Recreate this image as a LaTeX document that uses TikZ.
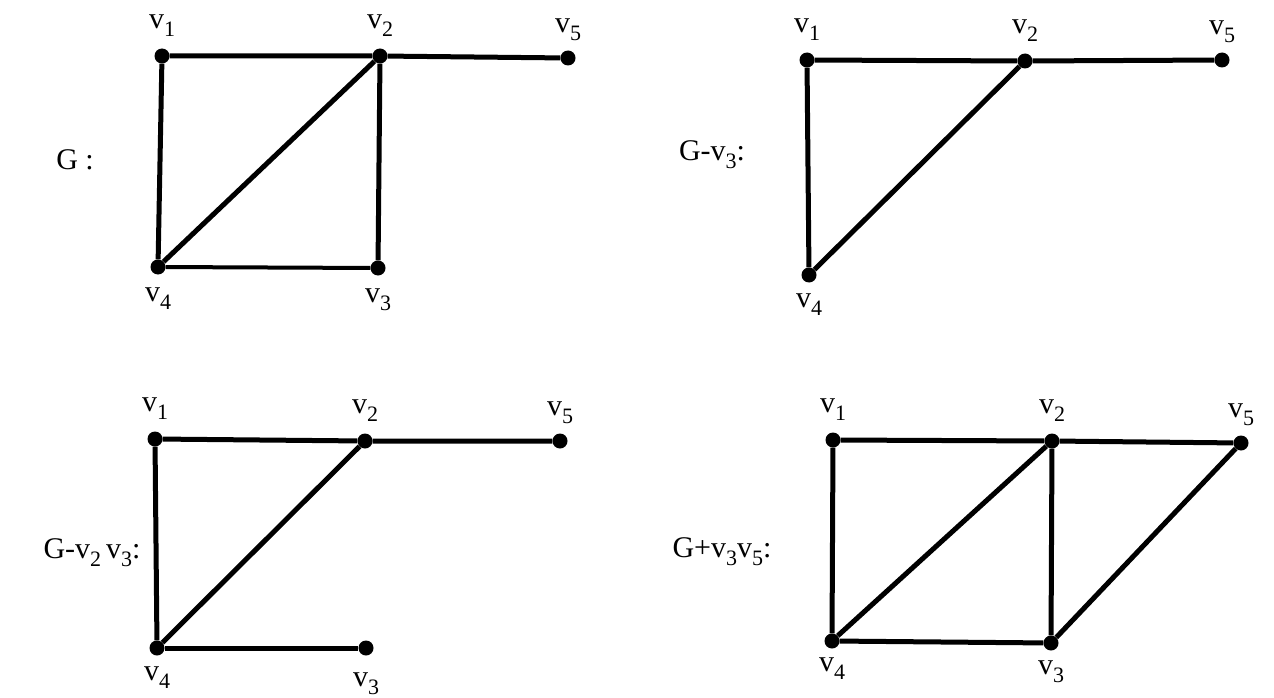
\documentclass[tikz,border=0pt]{standalone}
\usepackage{fontspec}
\setmainfont{Liberation Serif}
\usetikzlibrary{positioning}
\newcommand{\vs}[1]{v\raisebox{-8pt}{\fontsize{22pt}{22pt}\selectfont #1}}

\begin{document}
\begin{tikzpicture}[x=1pt, y=-1pt,
    every node/.style={inner sep=0pt},
    vtx/.style={circle, fill=black, minimum size=15pt},
    edge/.style={line width=5pt},
    thinedge/.style={line width=4pt},
    lbl/.style={font=\fontsize{30pt}{34pt}\selectfont}]
    \useasboundingbox (0,0) rectangle (1274,698);

    % Graph G (top left)
    \node[vtx] (a1) at (162,56) {};
    \node[vtx] (a2) at (380,56) {};
    \node[vtx] (a5) at (568,58) {};
    \node[vtx] (a4) at (158,267) {};
    \node[vtx] (a3) at (378,268) {};
    \node[lbl, above=12pt of a1] {\vs{1}};
    \node[lbl, above=12pt of a2] {\vs{2}};
    \node[lbl, above=9pt of a5] {\vs{5}};
    \node[lbl, below=13pt of a4] {\vs{4}};
    \node[lbl, below=13pt of a3] {\vs{3}};
    \node[lbl] (gA) at (75,160) {G :};
    \draw[edge] (a1) -- (a2) -- (a5);
    \draw[edge] (a1) -- (a4) -- (a2) -- (a3);
    \draw[thinedge] (a4) -- (a3);

    % Graph G-v3 (top right)
    \node[vtx] (b1) at (807,60) {};
    \node[vtx] (b2) at (1025,61) {};
    \node[vtx] (b5) at (1222,60) {};
    \node[vtx] (b4) at (809,275) {};
    \node[lbl, above=12pt of b1] {\vs{1}};
    \node[lbl, above=12pt of b2] {\vs{2}};
    \node[lbl, above=9pt of b5] {\vs{5}};
    \node[lbl, below=11pt of b4] {\vs{4}};
    \node[lbl] (gB) at (712,155) {G-\vs{3}:};
    \draw[edge] (b1) -- (b2) -- (b5);
    \draw[edge] (b1) -- (b4) -- (b2);

    % Graph G-v2v3 (bottom left)
    \node[vtx] (c1) at (155,439) {};
    \node[vtx] (c2) at (365,441) {};
    \node[vtx] (c5) at (560,441) {};
    \node[vtx] (c4) at (157,648) {};
    \node[vtx] (c3) at (366,648) {};
    \node[lbl, above=12pt of c1] {\vs{1}};
    \node[lbl, above=12pt of c2] {\vs{2}};
    \node[lbl, above=9pt of c5] {\vs{5}};
    \node[lbl, below=11pt of c4] {\vs{4}};
    \node[lbl, below=17pt of c3] {\vs{3}};
    \node[lbl] (gC) at (92,553) {G-\vs{2}\,\vs{3}:};
    \draw[edge] (c1) -- (c2) -- (c5);
    \draw[edge] (c1) -- (c4) -- (c2);
    \draw[edge] (c4) -- (c3);

    % Graph G+v3v5 (bottom right)
    \node[vtx] (d1) at (833,440) {};
    \node[vtx] (d2) at (1052,441) {};
    \node[vtx] (d5) at (1241,443) {};
    \node[vtx] (d4) at (832,641) {};
    \node[vtx] (d3) at (1051,643) {};
    \node[lbl, above=12pt of d1] {\vs{1}};
    \node[lbl, above=12pt of d2] {\vs{2}};
    \node[lbl, above=9pt of d5] {\vs{5}};
    \node[lbl, below=9pt of d4] {\vs{4}};
    \node[lbl, below=10pt of d3] {\vs{3}};
    \node[lbl] (gD) at (722,552) {G+\vs{3}\vs{5}:};
    \draw[edge] (d1) -- (d2) -- (d5) -- (d3) -- (d4) -- (d1);
    \draw[edge] (d4) -- (d2) -- (d3);
\end{tikzpicture}
\end{document}
